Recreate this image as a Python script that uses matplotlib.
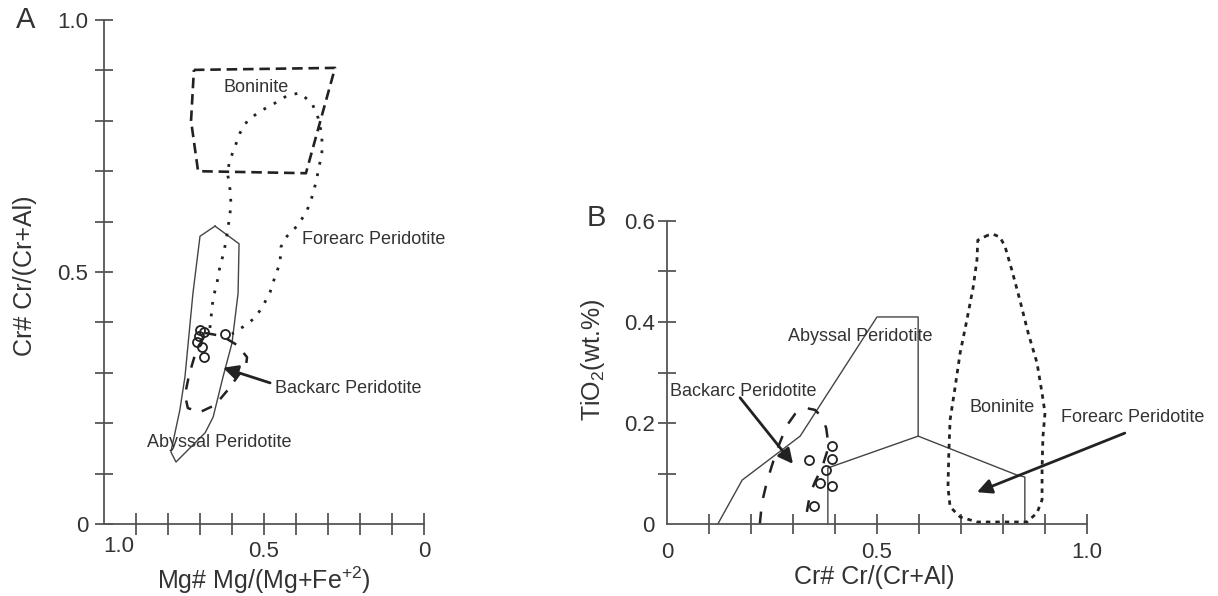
import numpy as np
import matplotlib
matplotlib.use("Agg")
import matplotlib.pyplot as plt

plt.rcParams['font.family'] = ['Liberation Sans', 'DejaVu Sans']
plt.rcParams['mathtext.fontset'] = 'custom'
plt.rcParams['mathtext.rm'] = 'Liberation Sans'
plt.rcParams['mathtext.it'] = 'Liberation Sans:italic'

TXT = '#333333'
AX = '#555555'
LN = '#222222'

# ---------------- Panel A data: Mg# (x) vs Cr# (y) ----------------
a_boninite_x = [0.719, 0.278, 0.369, 0.706, 0.728, 0.719]
a_boninite_y = [0.901, 0.905, 0.696, 0.700, 0.800, 0.901]

a_abyssal_x = [0.653, 0.578, 0.581, 0.600, 0.628, 0.659, 0.684, 0.775, 0.791,
               0.763, 0.747, 0.722, 0.700, 0.653]
a_abyssal_y = [0.591, 0.556, 0.458, 0.359, 0.292, 0.212, 0.181, 0.123, 0.143,
               0.226, 0.292, 0.458, 0.571, 0.591]

a_backarc_x = [0.684, 0.631, 0.584, 0.553, 0.556, 0.581, 0.613, 0.653, 0.700,
               0.738, 0.747, 0.734, 0.716, 0.684]
a_backarc_y = [0.379, 0.373, 0.355, 0.331, 0.315, 0.294, 0.266, 0.236, 0.222,
               0.230, 0.256, 0.296, 0.335, 0.379]

a_forearc_x = [0.669, 0.659, 0.647, 0.638, 0.625, 0.616, 0.609, 0.603, 0.606,
               0.613, 0.609, 0.591, 0.575, 0.550, 0.506, 0.466, 0.425, 0.388,
               0.350, 0.331, 0.319, 0.319, 0.328, 0.338, 0.350, 0.366, 0.394,
               0.428, 0.447, 0.450, 0.466, 0.481, 0.503, 0.528, 0.566, 0.600]
a_forearc_y = [0.389, 0.448, 0.478, 0.510, 0.540, 0.573, 0.603, 0.633, 0.663,
               0.692, 0.718, 0.748, 0.776, 0.802, 0.821, 0.835, 0.851, 0.855,
               0.835, 0.806, 0.772, 0.738, 0.708, 0.677, 0.649, 0.621, 0.593,
               0.571, 0.550, 0.518, 0.490, 0.460, 0.433, 0.409, 0.391, 0.377]

a_samples_mg = [0.700, 0.688, 0.703, 0.709, 0.694, 0.688, 0.622]
a_samples_cr = [0.385, 0.381, 0.373, 0.361, 0.351, 0.331, 0.377]

# ---------------- Panel B data: Cr# (x) vs TiO2 (y) ----------------
b_abyssal_x = [0.121, 0.179, 0.317, 0.500, 0.598, 0.598, 0.833, 0.852, 0.852]
b_abyssal_y = [0.000, 0.087, 0.174, 0.410, 0.410, 0.174, 0.097, 0.093, 0.000]
b_abyssal_inner_x = [0.383, 0.383, 0.598]
b_abyssal_inner_y = [0.000, 0.111, 0.174]

b_boninite_x = [0.764, 0.740, 0.738, 0.729, 0.714, 0.698, 0.686, 0.674, 0.671,
                0.669, 0.674, 0.698, 0.738, 0.810, 0.857, 0.881, 0.893, 0.893,
                0.895, 0.900, 0.893, 0.881, 0.860, 0.840, 0.821, 0.805, 0.793,
                0.776, 0.764]
b_boninite_y = [0.572, 0.562, 0.523, 0.469, 0.404, 0.339, 0.271, 0.206, 0.141,
                0.073, 0.034, 0.014, 0.004, 0.004, 0.004, 0.022, 0.048, 0.107,
                0.172, 0.220, 0.259, 0.319, 0.378, 0.444, 0.503, 0.549, 0.568,
                0.574, 0.572]

b_backarc_x = [0.221, 0.226, 0.236, 0.248, 0.262, 0.274, 0.288, 0.305, 0.329,
               0.352, 0.369, 0.379, 0.383, 0.381, 0.369, 0.352, 0.340, 0.333]
b_backarc_y = [0.000, 0.042, 0.077, 0.111, 0.147, 0.172, 0.198, 0.218, 0.230,
               0.226, 0.212, 0.190, 0.166, 0.143, 0.111, 0.083, 0.057, 0.024]

b_samples_cr = [0.393, 0.338, 0.393, 0.379, 0.364, 0.393, 0.350]
b_samples_ti = [0.154, 0.127, 0.129, 0.107, 0.081, 0.075, 0.036]

# ---------------- figure ----------------
W, H = 1218, 596
fig = plt.figure(figsize=(W / 100, H / 100), dpi=100)

axA = fig.add_axes([104 / W, 72 / H, 320 / W, 504 / H])
axB = fig.add_axes([667 / W, 72 / H, 420 / W, 303 / H])

for ax in (axA, axB):
    ax.patch.set_alpha(0)
    for s in ('top', 'right'):
        ax.spines[s].set_visible(False)
    for s in ('left', 'bottom'):
        ax.spines[s].set_color(AX)
        ax.spines[s].set_linewidth(1.3)

# ---- Panel A ----
axA.set_xlim(1.0, 0.0)
axA.set_ylim(0.0, 1.0)
axA.set_xticks(np.round(np.arange(0.0, 1.0, 0.1), 1))
axA.set_xticklabels(['0' if abs(v) < 1e-9 else ('0.5' if abs(v - 0.5) < 1e-9 else '')
                     for v in np.arange(0.0, 1.0, 0.1)])
axA.set_yticks(np.round(np.arange(0.1, 1.01, 0.1), 1).tolist() + [0.0])
axA.set_yticklabels(['', '', '', '', '0.5', '', '', '', '', '1.0', '0'])
axA.tick_params(axis='x', direction='inout', length=16, width=1.3, color=AX,
                pad=4, labelsize=16, labelcolor=TXT)
axA.tick_params(axis='y', direction='inout', length=13, width=1.3, color=AX,
                pad=5, labelsize=16, labelcolor=TXT)
axA.text(0.955, -0.024, '1.0', transform=axA.get_xaxis_transform(),
         ha='center', va='top', fontsize=16, color=TXT)

axA.plot(a_abyssal_x, a_abyssal_y, color='#444444', lw=1.0, clip_on=False)
axA.plot(a_boninite_x, a_boninite_y, color=LN, lw=1.9, dashes=(4, 2.2),
         clip_on=False)
axA.plot(a_backarc_x, a_backarc_y, color=LN, lw=1.8, dashes=(4.5, 4.5),
         clip_on=False)
axA.plot(a_forearc_x, a_forearc_y, color=LN, lw=2.0, dashes=(1, 3.2),
         clip_on=False)
axA.plot(a_samples_mg, a_samples_cr, 'o', ms=6.5, mfc='none', mec=LN,
         mew=1.3, clip_on=False)

axA.text(0.525, 0.867, 'Boninite', ha='center', va='center', fontsize=13,
         color=TXT)
axA.text(0.381, 0.565, 'Forearc Peridotite', ha='left', va='center',
         fontsize=13, color=TXT)
axA.text(0.466, 0.268, 'Backarc Peridotite', ha='left', va='center',
         fontsize=13, color=TXT)
axA.text(0.866, 0.161, 'Abyssal Peridotite', ha='left', va='center',
         fontsize=13, color=TXT)
axA.annotate('', xy=(0.628, 0.310), xytext=(0.481, 0.280),
             arrowprops=dict(arrowstyle='-|>', lw=2, color=LN,
                             mutation_scale=22, shrinkA=0, shrinkB=0))

# ---- Panel B ----
axB.set_xlim(0.0, 1.0)
axB.set_ylim(0.0, 0.6)
xt = np.round(np.arange(0.0, 1.01, 0.1), 1)
axB.set_xticks(xt)
axB.set_xticklabels(['0' if v == 0 else ('0.5' if v == 0.5 else ('1.0' if v == 1.0 else ''))
                     for v in xt])
yt = np.round(np.arange(0.0, 0.61, 0.1), 1)
axB.set_yticks(yt)
axB.set_yticklabels(['0' if v == 0 else (f'{v:.1f}' if round(v * 10) % 2 == 0 else '')
                     for v in yt])
axB.tick_params(axis='x', direction='inout', length=14, width=1.3, color=AX,
                pad=6, labelsize=16, labelcolor=TXT)
axB.tick_params(axis='y', direction='inout', length=13, width=1.3, color=AX,
                pad=2.5, labelsize=16, labelcolor=TXT)
axB.get_xticklines()[0].set_visible(False)
axB.get_xticklines()[1].set_visible(False)
axB.get_yticklines()[0].set_visible(False)
axB.get_yticklines()[1].set_visible(False)

axB.plot(b_abyssal_x, b_abyssal_y, color='#444444', lw=1.0, clip_on=False)
axB.plot(b_abyssal_inner_x, b_abyssal_inner_y, color='#444444', lw=1.0,
         clip_on=False)
axB.plot(b_boninite_x, b_boninite_y, color=LN, lw=2.0, dashes=(1.6, 1.8),
         clip_on=False)
axB.plot(b_backarc_x, b_backarc_y, color=LN, lw=1.8, dashes=(5, 5.5),
         clip_on=False)
axB.plot(b_samples_cr, b_samples_ti, 'o', ms=6.5, mfc='none', mec=LN,
         mew=1.3, clip_on=False)

axB.text(0.288, 0.372, 'Abyssal Peridotite', ha='left', va='center',
         fontsize=13, color=TXT)
axB.text(0.007, 0.263, 'Backarc Peridotite', ha='left', va='center',
         fontsize=13, color=TXT)
axB.text(0.799, 0.230, 'Boninite', ha='center', va='center', fontsize=13,
         color=TXT)
axB.text(0.938, 0.210, 'Forearc Peridotite', ha='left', va='center',
         fontsize=13, color=TXT)
axB.annotate('', xy=(0.300, 0.119), xytext=(0.174, 0.250),
             arrowprops=dict(arrowstyle='-|>', lw=2, color=LN,
                             mutation_scale=22, shrinkA=0, shrinkB=0))
axB.annotate('', xy=(0.738, 0.063), xytext=(1.090, 0.180),
             arrowprops=dict(arrowstyle='-|>', lw=2, color=LN,
                             mutation_scale=22, shrinkA=0, shrinkB=0),
             annotation_clip=False)

# ---- axis titles and panel letters ----
fig.text(264 / W, 1 - 580 / H, r'Mg# Mg/(Mg+Fe$^{\mathrm{+2}}$)', ha='center',
         va='center', fontsize=18, color=TXT)
fig.text(25 / W, 1 - 276 / H, 'Cr# Cr/(Cr+Al)', ha='center', va='center',
         rotation=90, fontsize=18, color=TXT)
fig.text(874 / W, 1 - 577 / H, 'Cr# Cr/(Cr+Al)', ha='center', va='center',
         fontsize=18, color=TXT)
fig.text(593 / W, 1 - 360 / H, r'TiO$_{\mathrm{2}}$(wt.%)', ha='center',
         va='center', rotation=90, fontsize=18, color=TXT)
fig.text(26 / W, 1 - 20 / H, 'A', ha='center', va='center', fontsize=21,
         color=TXT)
fig.text(596 / W, 1 - 218 / H, 'B', ha='center', va='center', fontsize=21,
         color=TXT)

fig.savefig('out.png', dpi=100, facecolor='white')
